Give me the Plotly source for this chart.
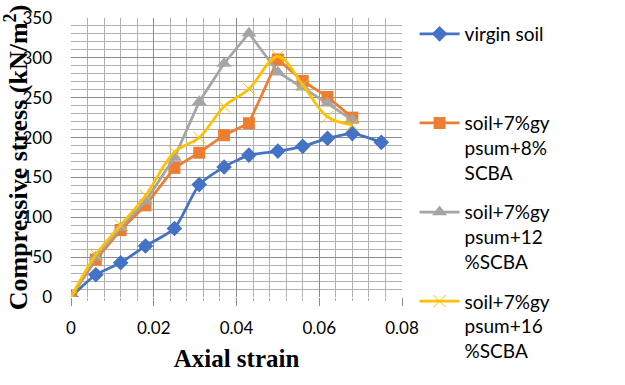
import plotly.graph_objects as go

strain_a = [0, 0.006, 0.012, 0.018, 0.025, 0.031, 0.037, 0.043, 0.050, 0.056, 0.062, 0.068, 0.075]
virgin = [0, 28, 43, 64, 86, 141, 163, 178, 183, 189, 199, 205, 194]

strain_b = [0, 0.006, 0.012, 0.018, 0.025, 0.031, 0.037, 0.043, 0.050, 0.056, 0.062, 0.068]
scba8 = [0, 47, 84, 115, 162, 181, 203, 218, 298, 271, 251, 225]
scba12 = [0, 50, 87, 120, 175, 245, 293, 331, 282, 263, 243, 222]
scba16 = [0, 53, 90, 127, 182, 200, 239, 261, 302, 266, 226, 216]

names = ["virgin soil",
         "soil+7%gy<br>psum+8%<br>SCBA",
         "soil+7%gy<br>psum+12<br>%SCBA",
         "soil+7%gy<br>psum+16<br>%SCBA"]
colors = ["#4472C4", "#ED7D31", "#A5A5A5", "#FFC000"]

fig = go.Figure()
fig.add_trace(go.Scatter(x=strain_a, y=virgin, name=names[0] + "<br> <br> ", mode="lines+markers",
                         line=dict(color=colors[0], width=2.75, shape="spline", smoothing=0.6),
                         marker=dict(symbol="diamond", size=12, color=colors[0]), legendgroup="a"))
fig.add_trace(go.Scatter(x=strain_b, y=scba8, name=names[1], mode="lines+markers",
                         line=dict(color=colors[1], width=2.75),
                         marker=dict(symbol="square", size=12, color=colors[1]), legendgroup="b"))
fig.add_trace(go.Scatter(x=strain_b, y=scba12, name=names[2], mode="lines+markers",
                         line=dict(color=colors[2], width=2.75),
                         marker=dict(symbol="triangle-up", size=13, color=colors[2]), legendgroup="c"))
fig.add_trace(go.Scatter(x=strain_b, y=scba16, name=names[3], mode="lines+markers",
                         line=dict(color=colors[3], width=2.75, shape="spline", smoothing=1.0),
                         marker=dict(symbol="x-thin", size=12, line=dict(color=colors[3], width=1)),
                         legendgroup="d"))

font_fam = "Lato"
fig.update_layout(
    width=625, height=385,
    margin=dict(l=71, r=223, t=18, b=88, autoexpand=False),
    paper_bgcolor="white", plot_bgcolor="white",
    font=dict(family=font_fam, size=17, color="#000000"),
    legend=dict(x=1.038, y=0.961, xanchor="left", yanchor="top", yref="container",
                valign="top", maxheight=380, itemwidth=40, bgcolor="rgba(0,0,0,0)",
                tracegroupgap=12, font=dict(size=19, family=font_fam)),
    xaxis=dict(range=[0, 0.08], dtick=0.02, automargin=False,
               showgrid=True, gridcolor="#8a8a8a", gridwidth=1,
               minor=dict(dtick=0.004, showgrid=True, gridcolor="#b0b0b0", gridwidth=1,
                          ticks="outside", ticklen=3, tickcolor="#b0b0b0"),
               ticks="outside", ticklen=8, tickcolor="#8a8a8a",
               zeroline=False, showline=False, ticklabelstandoff=8,
               title=dict(text="<b>Axial strain</b>",
                          font=dict(family="Liberation Serif", size=25), standoff=12)),
    yaxis=dict(range=[0, 350], dtick=50, automargin=False,
               showgrid=True, gridcolor="#8a8a8a", gridwidth=1,
               minor=dict(dtick=10, showgrid=True, gridcolor="#b0b0b0", gridwidth=1),
               zeroline=False, showline=False, ticks="", ticklabelstandoff=18,
               title=dict(text="<b>Compressive stress (kN/m<sup>2</sup>)</b>",
                          font=dict(family="Liberation Serif", size=26), standoff=0)),
)

fig.write_html("out.html", config={"displayModeBar": False},
               post_script="document.body.style.margin='0';")
